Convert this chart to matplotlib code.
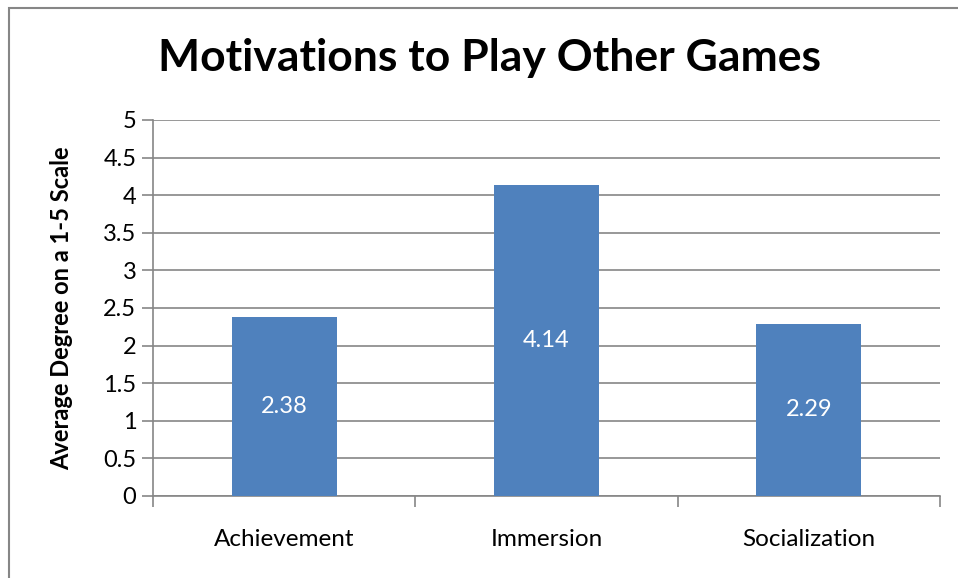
import matplotlib
matplotlib.use("Agg")
import matplotlib.pyplot as plt
from matplotlib.patches import Rectangle
from matplotlib.ticker import FixedLocator

categories = ["Achievement", "Immersion", "Socialization"]
values = [2.38, 4.14, 2.29]
labels = ["2.38", "4.14", "2.29"]
yticks = [0, 0.5, 1, 1.5, 2, 2.5, 3, 3.5, 4, 4.5, 5]
yticklabels = ["0", "0.5", "1", "1.5", "2", "2.5", "3", "3.5", "4", "4.5", "5"]
title = "Motivations to Play Other Games"
ylabel = "Average Degree on a 1-5 Scale"

plt.rcParams['font.family'] = ['Lato', 'DejaVu Sans']

W, H = 958, 578
fig = plt.figure(figsize=(W/100, H/100), dpi=100)
fig.patch.set_facecolor("white")

ax = fig.add_axes([153/W, 1-496/H, (940-153)/W, (496-120)/H])
x = list(range(len(categories)))
ax.bar(x, values, width=0.4, color="#4F81BD", zorder=3)
for xi, v, lab in zip(x, values, labels):
    ax.text(xi, v/2, lab, ha="center", va="center", color="white", fontsize=17, zorder=4)

ax.set_xlim(-0.5, 2.5)
ax.set_ylim(0, 5)
ax.set_yticks(yticks)
ax.set_yticklabels(yticklabels)
ax.grid(axis="y", color="#868686", linewidth=1.2, zorder=0)
ax.set_xticks(x)
ax.set_xticklabels(categories)
ax.xaxis.set_minor_locator(FixedLocator([-0.5, 0.5, 1.5, 2.5]))
ax.tick_params(axis="x", which="major", length=0, pad=24, labelsize=17.5)
ax.tick_params(axis="x", which="minor", length=8, width=1.2, color="#868686", direction="out")
ax.tick_params(axis="y", length=8, width=1.2, color="#868686", labelsize=17, pad=4)

for s in ["top", "right"]:
    ax.spines[s].set_visible(False)
for s in ["left", "bottom"]:
    ax.spines[s].set_color("#868686")
    ax.spines[s].set_linewidth(1.2)

fig.text(62/W, 1-308/H, ylabel, rotation=90, ha="center", va="center",
         fontsize=17, fontweight="bold")
fig.text(490/W, 1-58/H, title, ha="center", va="center", fontsize=32, fontweight="bold")

fig.patches.append(Rectangle((9/W, -0.1), 1.2, 1.1 - 8/H, transform=fig.transFigure,
                             fill=False, edgecolor="#868686", linewidth=1.5))

fig.savefig("out.png", dpi=100, facecolor="white")
